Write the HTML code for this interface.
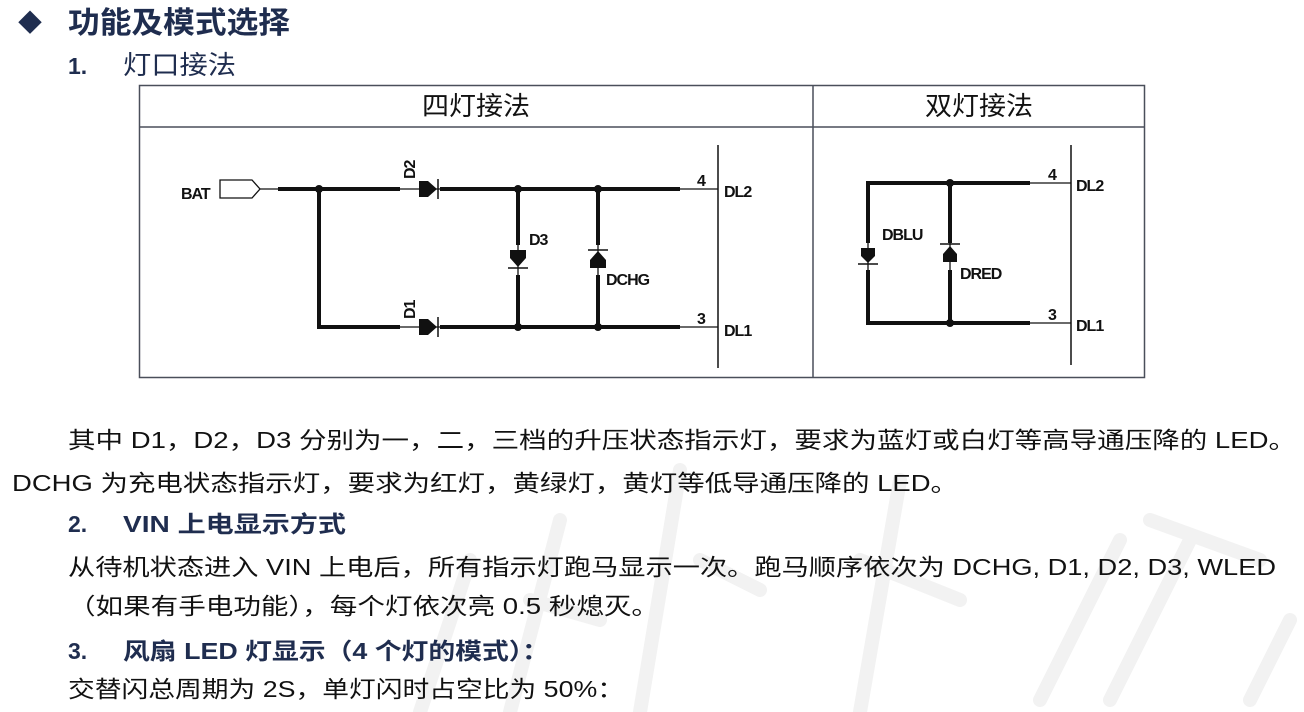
<!DOCTYPE html>
<html><head><meta charset="utf-8"><style>
html,body{margin:0;padding:0;background:#fff;width:1304px;height:712px;overflow:hidden}
svg{display:block}
.cn{font-family:"Liberation Sans","Noto Sans CJK SC",sans-serif}
.h{fill:#1f2d4f;font-weight:bold}
.b{fill:#111}
.s{font-family:"Liberation Sans",sans-serif;font-size:16px;font-weight:bold;fill:#111;letter-spacing:-1px}
</style></head><body>
<svg width="1304" height="712" viewBox="0 0 1304 712" xmlns="http://www.w3.org/2000/svg">
<!-- watermark -->
<g fill="none" stroke="#f2f2f2" stroke-width="14" stroke-linecap="round">
<path d="M420 712 L470 560"/><path d="M510 712 L560 520 M530 600 L600 620"/>
<path d="M680 470 L640 712 M700 560 L760 590"/><path d="M900 480 L860 712 M860 560 L960 600"/>
<path d="M1040 700 L1120 540 M1150 520 L1260 560 M1190 540 L1110 700"/><path d="M1250 700 L1290 620"/>
</g>
<!-- headings -->
<text x="18" y="31" class="cn h" font-size="24">◆</text>
<text x="68" y="33" class="cn h" font-size="30" textLength="222" lengthAdjust="spacingAndGlyphs">功能及模式选择</text>
<text x="68" y="74" class="cn h" font-size="23">1.</text>
<text x="123" y="74" class="cn" fill="#1f2d4f" font-size="26" textLength="113" lengthAdjust="spacingAndGlyphs">灯口接法</text>
<!-- table -->
<rect x="139.5" y="85.5" width="1005" height="292" fill="none" stroke="#4a4f5a" stroke-width="1.5"/>
<line x1="139" y1="127" x2="1145" y2="127" stroke="#4a4f5a" stroke-width="1.5"/>
<line x1="813" y1="85" x2="813" y2="378" stroke="#4a4f5a" stroke-width="1.5"/>
<text x="476" y="115" text-anchor="middle" class="cn b" font-size="26" textLength="108" lengthAdjust="spacingAndGlyphs">四灯接法</text>
<text x="979" y="115" text-anchor="middle" class="cn b" font-size="26" textLength="108" lengthAdjust="spacingAndGlyphs">双灯接法</text>
<!-- left circuit -->
<g stroke="#111" fill="none">
<path d="M220 180 H252 L260 189 L252 198 H220 Z" stroke-width="1.3"/>
<line x1="260" y1="189" x2="278" y2="189" stroke-width="1.3"/>
<path d="M278 189 H400 M440 189 H680 M319 189 V327 H400 M440 327 H680" stroke-width="4"/>
<line x1="400" y1="189" x2="440" y2="189" stroke-width="1.3"/>
<line x1="400" y1="327" x2="440" y2="327" stroke-width="1.3"/>
<line x1="680" y1="189" x2="718" y2="189" stroke-width="1.3"/>
<line x1="680" y1="327" x2="718" y2="327" stroke-width="1.3"/>
<line x1="718" y1="145" x2="718" y2="368" stroke-width="1.5"/>
<path d="M518 189 V245 M518 275 V327 M598 189 V245 M598 275 V327" stroke-width="4"/>
<path d="M518 245 V275 M598 245 V275" stroke-width="1.3"/>
<path d="M438 179 V199 M438 317 V337 M508 268 H528 M588 250 H608" stroke-width="1.5"/>
</g>
<g fill="#111">
<path d="M419 181 H428 L437 189 L428 197 H419 Z"/><path d="M419 319 H428 L437 327 L428 335 H419 Z"/>
<path d="M510 250 V258 L518 267 L526 258 V250 Z"/><path d="M590 268 V260 L598 251 L606 260 V268 Z"/>
<circle cx="319" cy="189" r="4"/><circle cx="518" cy="189" r="4"/><circle cx="598" cy="189" r="4"/>
<circle cx="518" cy="327" r="4"/><circle cx="598" cy="327" r="4"/>
</g>
<text x="181" y="199" class="s">BAT</text>
<text transform="translate(415,179) rotate(-90)" class="s">D2</text>
<text transform="translate(415,319) rotate(-90)" class="s">D1</text>
<text x="529" y="245" class="s">D3</text>
<text x="606" y="285" class="s">DCHG</text>
<text x="697" y="186" class="s" font-weight="normal">4</text>
<text x="724" y="197" class="s">DL2</text>
<text x="697" y="324" class="s" font-weight="normal">3</text>
<text x="724" y="336" class="s">DL1</text>
<!-- right circuit -->
<g stroke="#111" fill="none">
<path d="M1030 183 H868 V243 M868 270 V323 H1030 M950 183 V243 M950 270 V323" stroke-width="4"/>
<path d="M868 243 V270 M950 243 V270" stroke-width="1.3"/>
<line x1="1030" y1="183" x2="1071" y2="183" stroke-width="1.3"/>
<line x1="1030" y1="323" x2="1071" y2="323" stroke-width="1.3"/>
<line x1="1071" y1="145" x2="1071" y2="365" stroke-width="1.5"/>
<path d="M858 264 H878 M940 244 H960" stroke-width="1.5"/>
</g>
<g fill="#111">
<path d="M861 248 V256 L868 263 L875 256 V248 Z"/><path d="M943 262 V254 L950 246 L957 254 V262 Z"/>
<circle cx="950" cy="183" r="4"/><circle cx="950" cy="323" r="4"/>
</g>
<text x="882" y="240" class="s">DBLU</text>
<text x="960" y="279" class="s">DRED</text>
<text x="1048" y="180" class="s" font-weight="normal">4</text>
<text x="1076" y="191" class="s">DL2</text>
<text x="1048" y="320" class="s" font-weight="normal">3</text>
<text x="1076" y="331" class="s">DL1</text>
<!-- body text -->
<g class="cn b" font-size="23">
<text x="68" y="448" textLength="1228" lengthAdjust="spacingAndGlyphs">其中 D1，D2，D3 分别为一，二，三档的升压状态指示灯，要求为蓝灯或白灯等高导通压降的 LED。</text>
<text x="12" y="491" textLength="946" lengthAdjust="spacingAndGlyphs">DCHG 为充电状态指示灯，要求为红灯，黄绿灯，黄灯等低导通压降的 LED。</text>
<text x="68" y="575" textLength="1208" lengthAdjust="spacingAndGlyphs">从待机状态进入 VIN 上电后，所有指示灯跑马显示一次。跑马顺序依次为 DCHG, D1, D2, D3, WLED</text>
<text x="68" y="614" textLength="591" lengthAdjust="spacingAndGlyphs">（如果有手电功能），每个灯依次亮 0.5 秒熄灭。</text>
<text x="68" y="697" textLength="556" lengthAdjust="spacingAndGlyphs">交替闪总周期为 2S，单灯闪时占空比为 50%：</text>
</g>
<text x="68" y="532" class="cn h" font-size="23">2.</text>
<text x="123" y="532" class="cn h" font-size="23" textLength="223" lengthAdjust="spacingAndGlyphs">VIN 上电显示方式</text>
<text x="68" y="659" class="cn h" font-size="23">3.</text>
<text x="123" y="659" class="cn h" font-size="23" textLength="426" lengthAdjust="spacingAndGlyphs">风扇 LED 灯显示（4 个灯的模式）：</text>
</svg>
</body></html>
